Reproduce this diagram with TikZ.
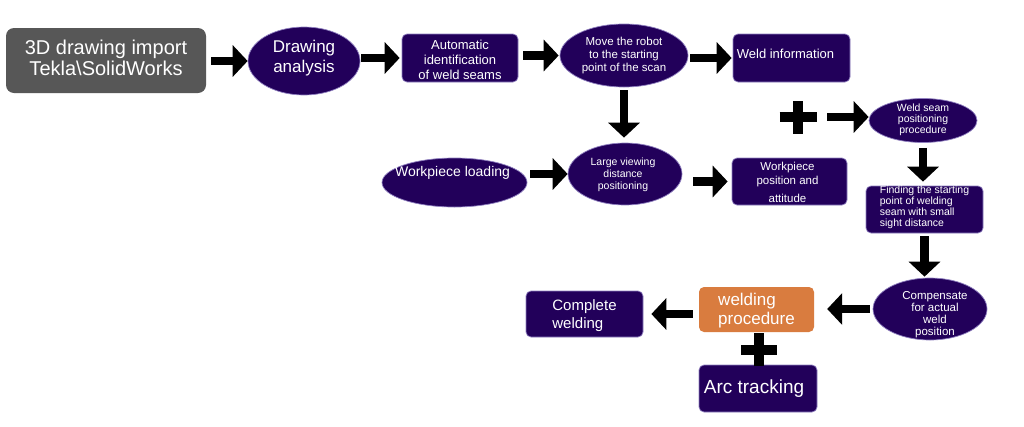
\documentclass[tikz,border=0pt]{standalone}
\usepackage{fontspec}
\setmainfont{Liberation Sans}
\usetikzlibrary{shapes.geometric,arrows.meta}
\definecolor{purp}{HTML}{22005A}
\definecolor{edgec}{HTML}{9080C0}
\definecolor{grayb}{HTML}{575757}
\definecolor{orangeb}{HTML}{D97C3F}
\newcommand\fs[2]{\fontsize{#1}{#2}\selectfont}
% #1 = twice the horizontal offset, #2 = visual vertical raise, #3 = column type, #4 = text
\newcommand\tx[4]{\makebox[0pt]{\kern#1\smash{\raisebox{\dimexpr#2-0.55em+0.2\baselineskip\relax}{\begin{tabular}{@{}#3@{}}#4\end{tabular}}}}}
\tikzset{
  purpbase/.style={fill=purp, draw=edgec, line width=0.7pt, text=white, inner sep=0pt},
  ell/.style={purpbase, ellipse},
  pbox/.style={purpbase, rectangle, rounded corners=5pt},
  gbox/.style={fill=grayb, rectangle, rounded corners=8pt, text=white, inner sep=0pt},
  obox/.style={fill=orangeb, rectangle, rounded corners=5pt, text=white, inner sep=0pt},
  blk/.style={-{Triangle[length=15pt,width=31pt]}, line width=8.5pt, black},
  plusbar/.style={line width=10pt, black},
}
\begin{document}
\begin{tikzpicture}[x=1pt,y=-1pt]
\fill[white] (0,0) rectangle (1024,426);
\useasboundingbox (0,0) rectangle (1024,426);

% nodes
\node[gbox, minimum width=200pt, minimum height=65pt, font=\fs{20}{21}] (imp) at (106,60.5)
  {\tx{0pt}{1pt}{c}{3D drawing import\\Tekla\textbackslash SolidWorks}};
\node[ell, minimum width=112pt, minimum height=68pt, font=\fs{17}{20}] (da) at (304,61)
  {\tx{0pt}{3.5pt}{c}{Drawing\\analysis}};
\node[pbox, minimum width=116pt, minimum height=48pt, font=\fs{13}{15}] (auto) at (460,58)
  {\tx{0pt}{-2pt}{c}{Automatic\\identification\\of weld seams}};
\node[ell, minimum width=128pt, minimum height=63pt, font=\fs{11.5}{13}] (move) at (624,55.5)
  {\tx{0pt}{0pt}{c}{Move the robot\\to the starting\\point of the scan}};
\node[pbox, minimum width=117pt, minimum height=48pt, font=\fs{13}{15}] (weld) at (791.5,58)
  {\tx{-12pt}{3.5pt}{l}{Weld information}};
\node[ell, minimum width=108pt, minimum height=44pt, font=\fs{10.5}{11}] (wsp) at (923,120.5)
  {\tx{0pt}{1pt}{c}{Weld seam\\positioning\\procedure}};
\node[pbox, minimum width=117pt, minimum height=47pt, font=\fs{10.5}{11}] (find) at (924.5,209.5)
  {\tx{0pt}{3pt}{l}{Finding the starting\\point of welding\\seam with small\\sight distance}};
\node[ell, minimum width=114pt, minimum height=62pt, font=\fs{11.5}{12}] (comp) at (930,309)
  {\tx{10pt}{-5.5pt}{c}{Compensate\\for actual\\weld\\position}};
\node[obox, minimum width=115pt, minimum height=45pt, font=\fs{17}{19}] (wp) at (756.5,309.5)
  {\tx{0pt}{-0.5pt}{l}{welding\\procedure}};
\node[pbox, minimum width=117pt, minimum height=46pt, font=\fs{15}{18}] (cw) at (584.5,314)
  {\tx{0pt}{-0.5pt}{l}{Complete\\welding}};
\node[pbox, minimum width=118pt, minimum height=47pt, font=\fs{19}{22}] (arc) at (758,388.5)
  {\tx{-8pt}{1pt}{c}{Arc tracking}};
\node[ell, minimum width=145pt, minimum height=49pt, font=\fs{14}{16}] (wl) at (454.5,182.5)
  {\tx{-4pt}{10pt}{c}{Workpiece loading}};
\node[ell, minimum width=114pt, minimum height=62pt, font=\fs{10.5}{12}] (lvd) at (625,174)
  {\tx{-4pt}{0pt}{c}{Large viewing\\distance\\positioning}};
\node[pbox, minimum width=115pt, minimum height=47pt, font=\fs{11.5}{14}] (wpa) at (789.5,181.5)
  {\tx{-4pt}{-2pt}{c}{Workpiece\\position and\\[4pt]attitude}};

% plus signs
\coordinate (pl1) at (798,117);
\coordinate (pl2) at (759,349.5);
\draw[plusbar] ([xshift=-18.5pt]pl1) -- ([xshift=18.5pt]pl1);
\draw[plusbar] ([yshift=-16.5pt]pl1) -- ([yshift=16.5pt]pl1);
\draw[plusbar] ([xshift=-18pt]pl2) -- ([xshift=18pt]pl2);
\draw[plusbar] ([yshift=-16.5pt]pl2) -- ([yshift=16.5pt]pl2);

% connectors
\draw[blk, shorten <=5pt] (imp.east |- da.west) -- (da.west);
\draw[blk, shorten <=1pt, shorten >=2pt] (da.east |- auto.west) -- (auto.west);
\draw[blk, shorten <=5pt, shorten >=1pt] (auto.east |- move.west) -- (move.west);
\draw[blk, shorten <=2pt, shorten >=1pt] (move.east |- weld.west) -- (weld.west);
\draw[blk, shorten <=3pt, shorten >=5pt] (move.south) -- (move.south |- lvd.north);
\draw[blk, shorten <=29pt] (pl1) -- (wsp.west |- pl1);
\draw[blk, shorten <=5pt, shorten >=4pt] (wsp.south) -- (wsp.south |- find.north);
\draw[blk, shorten <=3pt, shorten >=1pt] (find.south) -- (find.south |- comp.north);
\draw[blk, shorten <=3pt, shorten >=13pt] (comp.west) -- (comp.west -| wp.east);
\draw[blk, shorten <=6pt, shorten >=8pt] (wp.west |- cw.east) -- (cw.east);
\draw[blk, shorten <=3pt] (wl.east |- lvd.west) -- (lvd.west);
\draw[blk, shorten <=11pt, shorten >=4pt] (lvd.east |- wpa.west) -- (wpa.west);
\end{tikzpicture}
\end{document}
